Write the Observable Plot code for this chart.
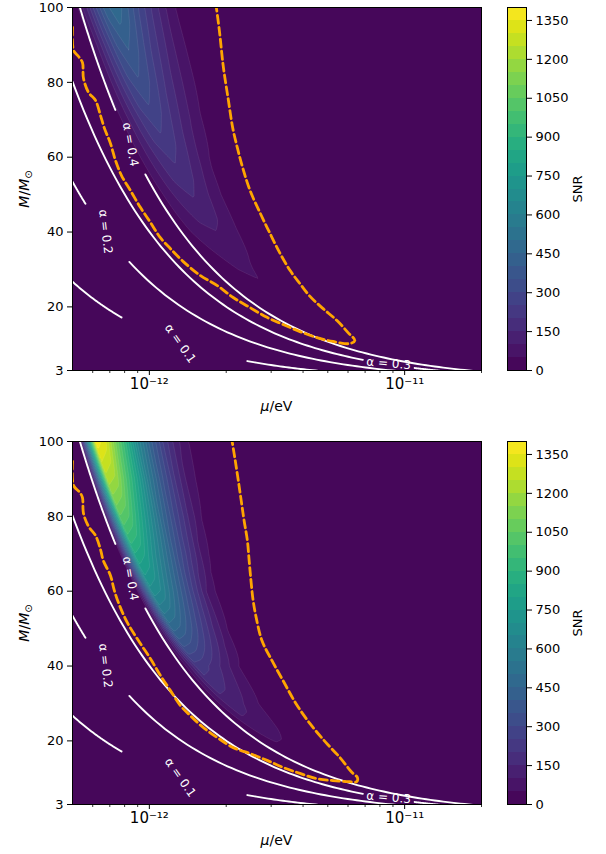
<!DOCTYPE html>
<html>
<head>
<meta charset="utf-8">
<script src="https://cdn.jsdelivr.net/npm/d3@7"></script>
<script src="https://cdn.jsdelivr.net/npm/@observablehq/plot@0.6"></script>
<style>
  html, body { margin: 0; padding: 0; background: #fff; }
  #chart { position: relative; width: 606px; height: 854px; overflow: hidden; font-family: "DejaVu Sans", sans-serif; }
  #chart svg { position: absolute; overflow: visible; }
</style>
</head>
<body>
<div id="chart"></div>
<script>
// ---------------- data ----------------
// SNR samples on a grid of (alpha = G M mu / hbar c^3 , M/Msun)
const alphaColumns = [0.30, 0.38, 0.40, 0.42, 0.46, 0.50, 0.55, 0.60, 0.67, 0.75, 0.85, 0.95, 1.10, 1.40];
const massRows = [100, 90, 80, 70, 60, 50, 40, 30, 20, 10, 0];

const snrTop = [
  [0, 10, 70, 130, 290, 420, 490, 430, 310, 210, 112, 48, 15, 0],
  [0, 5, 50, 100, 235, 350, 410, 360, 260, 175, 92, 40, 12, 0],
  [0, 3, 45, 85, 195, 290, 343, 300, 215, 140, 70, 30, 8, 0],
  [0, 0, 38, 68, 155, 230, 274, 238, 168, 105, 45, 18, 5, 0],
  [0, 0, 25, 60, 125, 178, 210, 183, 125, 58, 20, 6, 0, 0],
  [0, 0, 15, 45, 95, 135, 155, 130, 75, 30, 8, 0, 0, 0],
  [0, 0, 10, 38, 66, 88, 98, 85, 48, 20, 5, 0, 0, 0],
  [0, 0, 0, 10, 30, 50, 60, 38, 20, 8, 0, 0, 0, 0],
  [0, 0, 0, 3, 8, 15, 20, 16, 10, 5, 0, 0, 0, 0],
  [0, 0, 0, 0, 0, 0, 0, 0, 0, 0, 0, 0, 0, 0],
  [0, 0, 0, 0, 0, 0, 0, 0, 0, 0, 0, 0, 0, 0]
];

const snrBottom = [
  [0, 0, 30, 420, 1385, 1330, 1110, 920, 650, 430, 240, 120, 30, 0],
  [0, 0, 26, 370, 1230, 1185, 990, 815, 567, 370, 196, 82, 15, 0],
  [0, 0, 21, 315, 1050, 998, 830, 672, 462, 294, 147, 52, 8, 0],
  [0, 0, 16, 255, 850, 805, 662, 530, 355, 212, 74, 21, 0, 0],
  [0, 0, 11, 204, 680, 644, 517, 396, 242, 99, 22, 5, 0, 0],
  [0, 0, 5, 131, 470, 436, 349, 256, 142, 52, 11, 0, 0, 0],
  [0, 0, 0, 60, 225, 210, 165, 115, 50, 15, 0, 0, 0, 0],
  [0, 0, 0, 45, 125, 115, 85, 50, 20, 5, 0, 0, 0, 0],
  [0, 0, 0, 15, 52, 48, 35, 20, 8, 0, 0, 0, 0, 0],
  [0, 0, 0, 0, 0, 0, 0, 0, 0, 0, 0, 0, 0, 0],
  [0, 0, 0, 0, 0, 0, 0, 0, 0, 0, 0, 0, 0, 0]
];

// contour levels and tick labels
const snrLevels = [0, 50, 100, 150, 200, 250, 300, 350, 400, 450, 500, 550, 600, 650, 700,
  750, 800, 850, 900, 950, 1000, 1050, 1100, 1150, 1200, 1250, 1300, 1350, 1400];
const colorbarTicks = [0, 150, 300, 450, 600, 750, 900, 1050, 1200, 1350];
const massTicks = [3, 20, 40, 60, 80, 100];
const muMajorTicks = [1e-12, 1e-11];
const muMinorTicks = [6e-13, 7e-13, 8e-13, 9e-13, 2e-12, 3e-12, 4e-12, 5e-12, 6e-12, 7e-12, 8e-12, 9e-12, 2e-11];
const muDomain = [5e-13, 2e-11];
const massDomain = [3, 100];

// alpha iso-lines: alpha = K * (M/Msun) * (mu/eV)
const alphaK = 7.483e9;
const alphaSegments = [
  {alpha: 0.1, from: 5.0e-13, to: 7.78e-13}, {alpha: 0.1, from: 2.42e-12, to: 2.0e-11},
  {alpha: 0.2, from: 5.0e-13, to: 5.62e-13}, {alpha: 0.2, from: 8.35e-13, to: 2.0e-11},
  {alpha: 0.3, from: 5.0e-13, to: 6.86e-12}, {alpha: 0.3, from: 1.094e-11, to: 2.0e-11},
  {alpha: 0.4, from: 5.0e-13, to: 7.36e-13}, {alpha: 0.4, from: 9.65e-13, to: 2.0e-11}
];
const alphaLabels = [
  {alpha: 0.4, mu: 8.43e-13, M: 63.4, rotate: 80},
  {alpha: 0.2, mu: 6.73e-13, M: 40.1, rotate: 83},
  {alpha: 0.1, mu: 1.322e-12, M: 10.2, rotate: 55},
  {alpha: 0.3, mu: 8.66e-12, M: 4.87, rotate: 5}
];

// orange dashed boundary [mu (eV), M/Msun]
const dashTop = [
  [5.00e-13, 94.7], [5.05e-13, 88.5], [5.28e-13, 86.9], [5.47e-13, 85.3], [5.52e-13, 81.1],
  [5.78e-13, 77.3], [6.15e-13, 75.2], [6.44e-13, 71.1], [6.67e-13, 67.7], [7.04e-13, 63.7],
  [7.37e-13, 59.1], [7.78e-13, 55.1], [8.43e-13, 51.1], [9.22e-13, 46.6], [1.009e-12, 42.6],
  [1.104e-12, 38.5], [1.208e-12, 35.6], [1.358e-12, 32.1], [1.582e-12, 28.4], [1.845e-12, 25.7],
  [2.130e-12, 22.5], [2.481e-12, 19.8], [2.89e-12, 17.2], [3.34e-12, 15.3], [3.89e-12, 13.4],
  [4.53e-12, 11.8], [5.24e-12, 10.75], [6.10e-12, 10.2], [6.38e-12, 11.0], [5.99e-12, 13.2],
  [5.42e-12, 16.4], [4.78e-12, 19.6], [4.26e-12, 22.8], [3.89e-12, 26.2], [3.56e-12, 29.7],
  [3.25e-12, 34.3], [2.97e-12, 39.6], [2.72e-12, 45.0], [2.48e-12, 51.1], [2.32e-12, 57.2],
  [2.21e-12, 62.6], [2.12e-12, 67.9], [2.04e-12, 75.2], [1.95e-12, 84.0], [1.88e-12, 93.9],
  [1.83e-12, 100]
];
const dashBottom = [
  [5.00e-13, 94.7], [5.05e-13, 88.2], [5.34e-13, 86.4], [5.47e-13, 85.0], [5.52e-13, 80.8],
  [5.78e-13, 77.3], [6.15e-13, 74.9], [6.44e-13, 71.1], [6.60e-13, 68.2], [7.04e-13, 64.2],
  [7.29e-13, 60.2], [7.64e-13, 56.2], [8.20e-13, 51.6], [9.06e-13, 46.8], [1.009e-12, 42.0],
  [1.104e-12, 37.5], [1.208e-12, 33.5], [1.321e-12, 29.5], [1.445e-12, 26.8], [1.625e-12, 23.6],
  [1.845e-12, 20.9], [2.130e-12, 18.2], [2.481e-12, 16.6], [2.89e-12, 14.8], [3.34e-12, 12.9],
  [3.89e-12, 11.3], [4.53e-12, 9.9], [5.24e-12, 9.4], [6.10e-12, 9.1], [6.49e-12, 9.1],
  [6.53e-12, 10.2], [6.21e-12, 11.6], [5.57e-12, 15.6], [4.91e-12, 19.6], [4.26e-12, 24.6],
  [3.75e-12, 30.0], [3.34e-12, 36.1], [3.02e-12, 41.5], [2.76e-12, 46.8], [2.62e-12, 53.0],
  [2.55e-12, 57.5], [2.50e-12, 62.9], [2.46e-12, 68.2], [2.42e-12, 73.6], [2.35e-12, 78.9],
  [2.29e-12, 84.2], [2.23e-12, 89.6], [2.17e-12, 94.9], [2.11e-12, 100]
];

// ---------------- helpers ----------------
const colorScale = {type: "linear", domain: [-25, 1375], scheme: "viridis"};
const bandColor = (t) => d3.interpolateViridis((t + 25) / 1400);
const background = bandColor(0);
const FONT = "DejaVu Sans";

// SNR at (mu, M): bilinear lookup in the (alpha, M) table above
function snrField(grid) {
  const nc = alphaColumns.length, nr = massRows.length;
  return (mu, M) => {
    const a = alphaK * M * mu;
    if (!(a > alphaColumns[0]) || a >= alphaColumns[nc - 1]) return 0;
    const m = Math.max(massRows[nr - 1], Math.min(massRows[0], M));
    let r = 0;
    while (r < nr - 2 && m < massRows[r + 1]) r++;
    const tr = (massRows[r] - m) / (massRows[r] - massRows[r + 1]);
    const c = Math.min(nc - 2, d3.bisectRight(alphaColumns, a) - 1);
    const tc = (a - alphaColumns[c]) / (alphaColumns[c + 1] - alphaColumns[c]);
    const top = grid[r][c] * (1 - tc) + grid[r][c + 1] * tc;
    const bot = grid[r + 1][c] * (1 - tc) + grid[r + 1][c + 1] * tc;
    return top * (1 - tr) + bot * tr;
  };
}

// points along each alpha iso-line segment
const alphaLinePoints = alphaSegments.flatMap((s, i) => {
  const n = 80;
  return d3.range(n).map(k => {
    const mu = s.from * Math.pow(s.to / s.from, k / (n - 1));
    return {seg: i, mu, M: s.alpha / (alphaK * mu)};
  });
});

const supMap = {"-": "\u207B", "0": "\u2070", "1": "\u00B9", "2": "\u00B2", "3": "\u00B3", "4": "\u2074",
  "5": "\u2075", "6": "\u2076", "7": "\u2077", "8": "\u2078", "9": "\u2079"};
const powerFormat = d => "10" + String(Math.round(Math.log10(d))).split("").map(ch => supMap[ch]).join("");

function panel(grid, dash) {
  const svg = Plot.plot({
    width: 500, height: 434,
    marginLeft: 72, marginRight: 19, marginTop: 7, marginBottom: 64,
    x: {type: "log", domain: muDomain},
    y: {type: "linear", domain: massDomain},
    color: colorScale,
    style: {fontFamily: FONT, fontSize: "13px", background: "transparent", color: "black"},
    marks: [
      Plot.frame({fill: background, stroke: null}),
      Plot.contour({
        fill: snrField(grid),
        x1: muDomain[0], x2: muDomain[1], y1: massDomain[0], y2: massDomain[1],
        thresholds: snrLevels.slice(1, -1),
        stroke: "#ffffff", strokeOpacity: 0.16, strokeWidth: 0.5,
        pixelSize: 1.5, clip: true
      }),
      Plot.line(alphaLinePoints, {x: "mu", y: "M", z: "seg", stroke: "white", strokeWidth: 1.9, clip: true}),
      Plot.line(dash, {x: d => d[0], y: d => d[1], stroke: "#ffa500", strokeWidth: 2.8,
        strokeDasharray: "8,4", clip: true, curve: "catmull-rom"}),
      Plot.text(alphaLabels, {x: "mu", y: "M", text: d => `\u03B1 = ${d.alpha}`, rotate: "rotate",
        fill: "white", fontSize: 12, fontFamily: FONT}),
      Plot.frame({stroke: "black", strokeWidth: 1}),
      Plot.axisY({ticks: massTicks, tickSize: 5, tickPadding: 4, label: null, fontSize: 13}),
      Plot.axisX({ticks: muMajorTicks, tickSize: 5, tickPadding: 3, label: null, tickFormat: powerFormat, fontSize: 15}),
      Plot.axisX({ticks: muMinorTicks, tickSize: 3, tickFormat: () => "", label: null, strokeWidth: 0.8})
    ]
  });
  const s = d3.select(svg);
  const xl = s.append("text").attr("x", 276.5).attr("y", 411).attr("text-anchor", "middle")
    .attr("font-family", FONT).attr("font-size", 14).attr("fill", "black");
  xl.append("tspan").attr("font-style", "italic").text("\u03BC");
  xl.append("tspan").text("/eV");
  const yl = s.append("text").attr("transform", "translate(29,189) rotate(-90)").attr("text-anchor", "middle")
    .attr("font-family", FONT).attr("font-size", 14).attr("fill", "black");
  yl.append("tspan").attr("font-style", "italic").text("M");
  yl.append("tspan").text("/");
  yl.append("tspan").attr("font-style", "italic").text("M");
  yl.append("tspan").attr("font-size", 10).attr("dy", 3).text("\u2299");
  return svg;
}

function colorbar() {
  const bands = snrLevels.slice(0, -1);
  const svg = Plot.plot({
    width: 111, height: 434,
    marginLeft: 12, marginRight: 80, marginTop: 7, marginBottom: 64,
    x: {domain: [0, 1], axis: null},
    y: {domain: [0, 1400]},
    color: colorScale,
    style: {fontFamily: FONT, fontSize: "13px", background: "transparent", color: "black"},
    marks: [
      Plot.rect(bands, {x1: 0, x2: 1, y1: d => d, y2: d => d + 50, fill: d => d, shapeRendering: "crispEdges"}),
      Plot.frame({stroke: "black", strokeWidth: 1}),
      Plot.axisY({anchor: "right", ticks: colorbarTicks, tickSize: 5, tickPadding: 4, label: null,
        fontSize: 13, tickFormat: d => String(d)})
    ]
  });
  d3.select(svg).append("text").attr("transform", "translate(87,189) rotate(-90)").attr("text-anchor", "middle")
    .attr("font-family", FONT).attr("font-size", 13).attr("fill", "black").text("SNR");
  return svg;
}

const root = document.getElementById("chart");
function place(el, left, top) { el.style.left = left + "px"; el.style.top = top + "px"; root.appendChild(el); }
place(panel(snrTop, dashTop), 0, 0);
place(colorbar(), 495, 0);
place(panel(snrBottom, dashBottom), 0, 434);
place(colorbar(), 495, 434);
</script>
</body>
</html>
